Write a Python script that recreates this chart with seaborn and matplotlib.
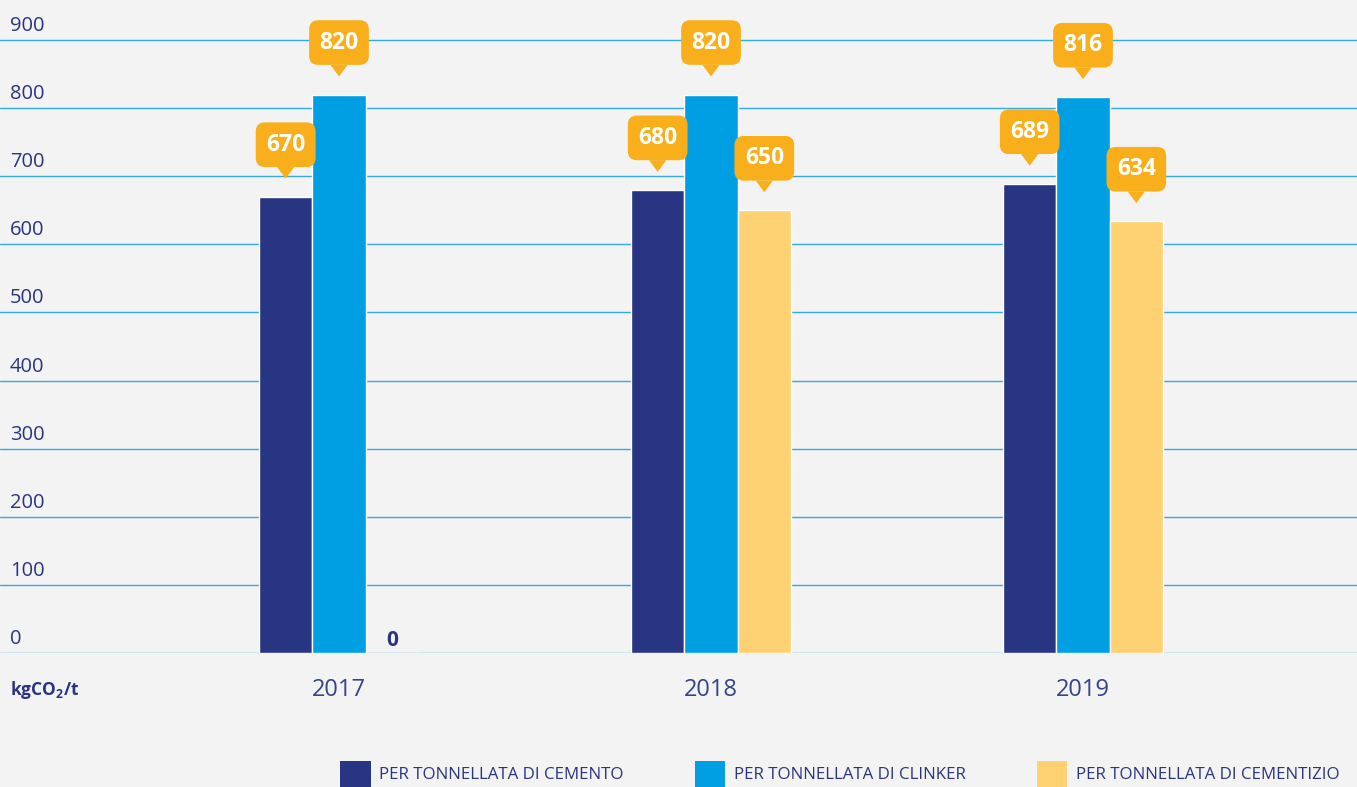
import pandas as pd
import matplotlib
matplotlib.use("Agg")
import matplotlib.pyplot as plt
import matplotlib.transforms as mtransforms
from matplotlib.patches import Patch
import seaborn as sns

# Chart data
years = ["2017", "2018", "2019"]
series_names = ["PER TONNELLATA DI CEMENTO", "PER TONNELLATA DI CLINKER", "PER TONNELLATA DI CEMENTIZIO"]
cemento = [670, 680, 689]
clinker = [820, 820, 816]
cementizio = [0, 650, 634]
y_ticks = [0, 100, 200, 300, 400, 500, 600, 700, 800, 900]
unit_label = "kgCO$_2$/t"

# Colours
navy = "#283583"
blue = "#009fe3"
yellow = "#fed173"
orange = "#f9af1b"
grid_blue = "#35a9e1"
bg = "#f3f3f3"
text_navy = "#2b3480"

# Long table for seaborn
rows = []
for name, vals in zip(series_names, [cemento, clinker, cementizio]):
    for y, v in zip(years, vals):
        rows.append({"year": y, "serie": name, "value": v})
df = pd.DataFrame(rows)

sns.set_style("white")
plt.rcParams["font.family"] = ["Open Sans", "DejaVu Sans"]
plt.rcParams["mathtext.fontset"] = "custom"
plt.rcParams["mathtext.rm"] = "Open Sans:bold"
plt.rcParams["mathtext.it"] = "Open Sans:bold"
plt.rcParams["mathtext.bf"] = "Open Sans:bold"

W, H = 1357, 787
fig = plt.figure(figsize=(W / 100, H / 100), dpi=100, facecolor=bg)
ax = fig.add_axes([0, (H - 653) / H, 1, (653 - 38) / H])
ax.set_facecolor(bg)

sns.barplot(data=df, x="year", y="value", hue="serie", hue_order=series_names,
            palette=[navy, blue, yellow], saturation=1, width=0.43,
            edgecolor="white", linewidth=1, ax=ax, legend=False)

ax.set_xlim(-339 / 372, (W - 339) / 372)
ax.set_ylim(0, 903)
ax.set_yticks(y_ticks)
ax.set_yticklabels([])
ax.tick_params(axis="y", length=0)
ax.yaxis.grid(True, color=grid_blue, linewidth=1)
ax.set_axisbelow(True)
for s in ax.spines.values():
    s.set_visible(False)
ax.set_xlabel("")
ax.set_ylabel("")
ax.tick_params(axis="x", length=0, pad=18, labelsize=17, labelcolor="#36438b")

# y tick labels sitting above the gridlines
ytrans = mtransforms.offset_copy(ax.get_yaxis_transform(), fig=fig, x=0, y=9, units="dots")
for t in y_ticks:
    ax.text(10 / W, t, str(t), transform=ytrans, ha="left", va="baseline",
            fontsize=14.5, color=text_navy)

# value callouts
for cont in ax.containers:
    for bar in cont:
        x = bar.get_x() + bar.get_width() / 2
        v = bar.get_height()
        if v == 0:
            ax.annotate(f"{v:.0f}", xy=(x, v), xytext=(0, 7), textcoords="offset pixels",
                        ha="center", va="baseline", fontsize=15, fontweight="bold",
                        color=text_navy)
            continue
        ax.annotate(f"{v:.0f}", xy=(x, v), xytext=(0, 52), textcoords="offset pixels",
                    ha="center", va="center", fontsize=16.5, fontweight="bold",
                    color="white",
                    bbox=dict(boxstyle="round,pad=0.45,rounding_size=0.4",
                              fc=orange, ec="none"),
                    arrowprops=dict(arrowstyle="wedge,tail_width=0.75", fc=orange,
                                    ec="none", shrinkA=0, shrinkB=13),
                    annotation_clip=False)

# unit label
fig.text(10 / W, 1 - 690 / H, unit_label, ha="left", va="center",
         fontsize=12.5, color=text_navy, fontweight="bold")

# legend at the bottom
handles = [Patch(facecolor=c, edgecolor="none") for c in [navy, blue, yellow]]
leg = fig.legend(handles, series_names, loc="upper left",
                 bbox_to_anchor=(340 / W, 1 - 761 / H), ncol=3, frameon=False,
                 fontsize=12.2, handlelength=1.8, handleheight=2.0,
                 handletextpad=0.5, columnspacing=4.2,
                 borderaxespad=0, borderpad=0)
for txt in leg.get_texts():
    txt.set_color(text_navy)

fig.savefig("out.png", dpi=100, facecolor=bg)
